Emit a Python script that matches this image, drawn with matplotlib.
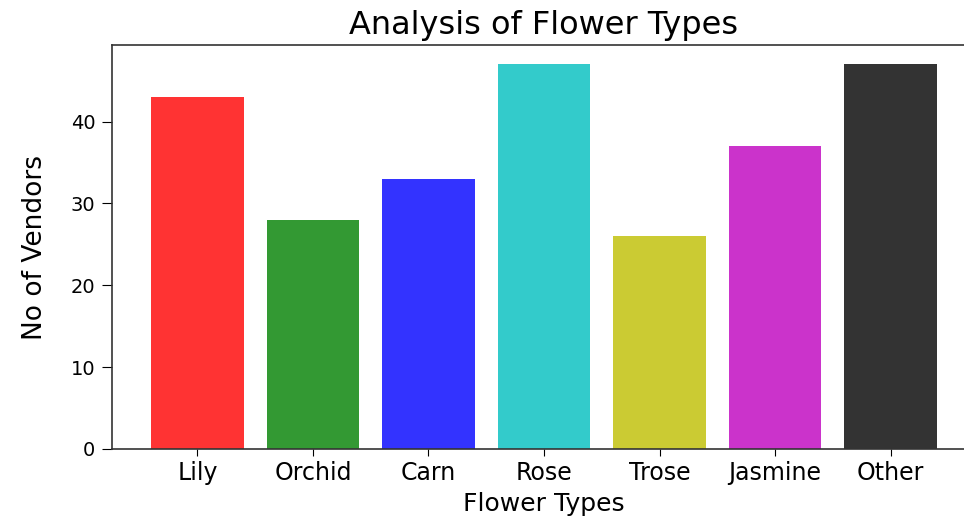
import numpy as np
import matplotlib
matplotlib.use("Agg")
import matplotlib.pyplot as plt

# data
flowers = ["Lily", "Orchid", "Carn", "Rose", "Trose", "Jasmine", "Other"]
vendors = [43, 28, 33, 47, 26, 37, 47]
bar_colors = ["r", "g", "b", "c", "y", "m", "k"]


def main():
    fig = plt.figure(figsize=(9.64, 5.19), dpi=100)
    # axes run past the right edge on purpose (the reference is cropped there)
    ax = fig.add_axes([112 / 964, 70 / 519, 864 / 964, 404 / 519])

    pos = np.arange(len(flowers))
    ax.bar(pos, vendors, color=bar_colors, alpha=0.8, width=0.8)

    ax.set_xticks(pos)
    ax.set_xticklabels(flowers, fontsize=17)
    ax.tick_params(axis="y", labelsize=14, length=7, pad=5)
    ax.tick_params(axis="x", length=5)

    ax.set_xlabel("Flower Types", fontsize=18, labelpad=5)
    ax.set_ylabel("No of Vendors", fontsize=19)
    ax.yaxis.set_label_coords(-0.074, 0.5)
    ax.set_title("Analysis of Flower Types", fontsize=23, pad=8)

    for sp in ax.spines.values():
        sp.set_linewidth(1.2)
        sp.set_color("#333333")
    ax.spines["right"].set_visible(False)

    fig.savefig("out.png", dpi=100)


if __name__ == "__main__":
    main()
